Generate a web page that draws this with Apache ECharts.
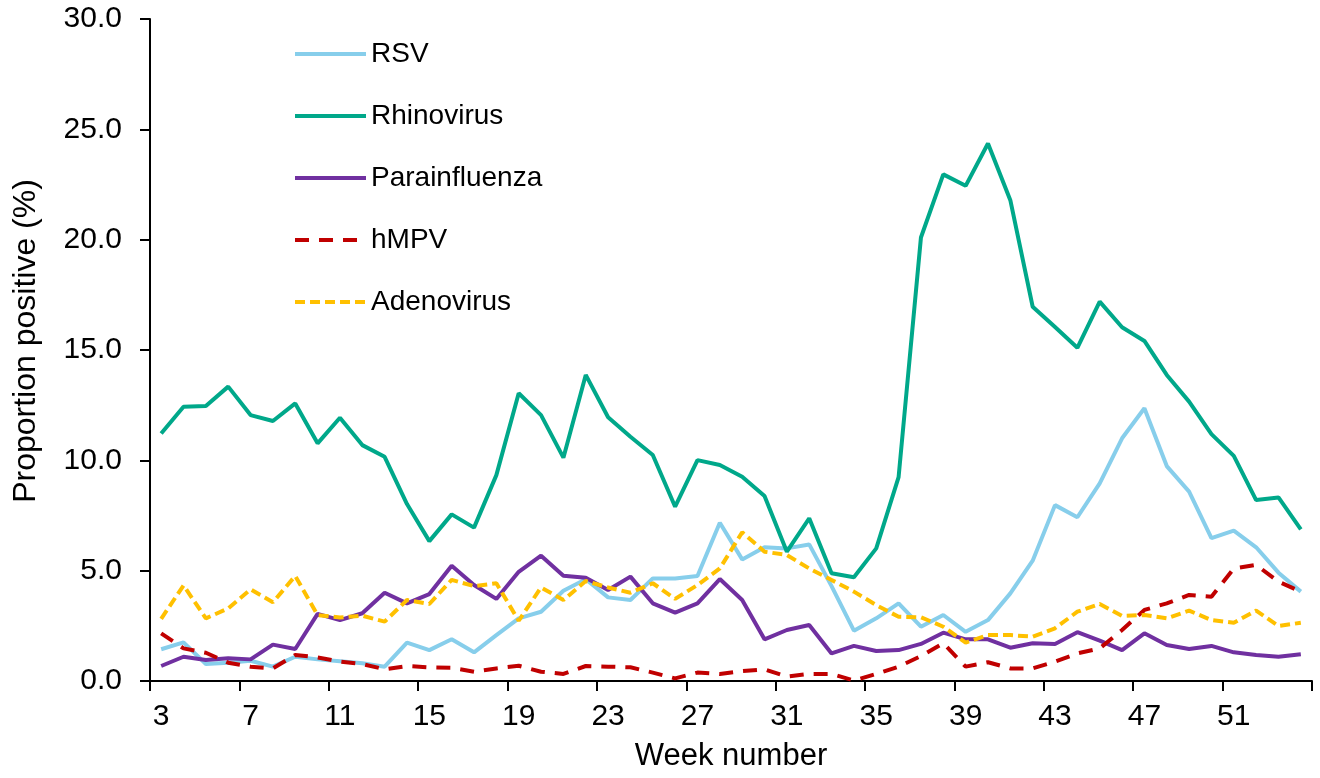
<!DOCTYPE html>
<html>
<head>
<meta charset="utf-8">
<script src="https://cdn.jsdelivr.net/npm/echarts@6/dist/echarts.min.js"></script>
<style>
  html, body { margin: 0; padding: 0; background: #fff; }
  #chart { width: 1320px; height: 778px; }
</style>
</head>
<body>
<div id="chart"></div>
<script>
// week numbers 3..54
var weeks = ['3','4','5','6','7','8','9','10','11','12','13','14','15','16','17','18','19','20','21','22','23','24','25','26','27','28',
  '29','30','31','32','33','34','35','36','37','38','39','40','41','42','43','44','45','46','47','48','49','50','51','52','53','54'];

var rsv = [1.44, 1.75, 0.77, 0.83, 0.92, 0.65, 1.1, 0.98, 0.89, 0.8, 0.65, 1.74, 1.4,
  1.89, 1.3, 2.08, 2.84, 3.14, 4.09, 4.61, 3.79, 3.67, 4.65, 4.65, 4.76, 7.17,
  5.51, 6.06, 6.01, 6.19, 4.3, 2.28, 2.84, 3.52, 2.46, 2.99, 2.23, 2.76, 3.97,
  5.45, 7.97, 7.42, 8.96, 11.0, 12.36, 9.74, 8.58, 6.47, 6.81, 6.06, 4.91, 4.05];

var rhinovirus = [11.22, 12.43, 12.46, 13.34, 12.05, 11.78, 12.58, 10.77, 11.93, 10.69, 10.16, 8.02, 6.34,
  7.55, 6.95, 9.33, 13.04, 12.05, 10.12, 13.87, 11.95, 11.07, 10.24, 7.9, 10.01, 9.79,
  9.26, 8.38, 5.86, 7.37, 4.88, 4.7, 6.01, 9.24, 20.1, 22.96, 22.44, 24.36, 21.79,
  16.96, 16.04, 15.1, 17.19, 16.03, 15.41, 13.87, 12.66, 11.19, 10.2, 8.2, 8.32, 6.87];

var parainfluenza = [0.68, 1.1, 0.95, 1.03, 0.98, 1.65, 1.45, 3.04, 2.76, 3.07, 4.0, 3.52, 3.94,
  5.22, 4.35, 3.72, 4.95, 5.68, 4.77, 4.68, 4.12, 4.73, 3.52, 3.1, 3.52, 4.62,
  3.67, 1.89, 2.31, 2.54, 1.25, 1.59, 1.36, 1.4, 1.68, 2.19, 1.89, 1.89, 1.51,
  1.71, 1.68, 2.21, 1.83, 1.4, 2.16, 1.63, 1.45, 1.59, 1.3, 1.18, 1.1, 1.21];

var hmpv = [2.16, 1.48, 1.28, 0.83, 0.65, 0.57, 1.18, 1.07, 0.88, 0.77, 0.53, 0.68, 0.62,
  0.6, 0.42, 0.57, 0.69, 0.42, 0.32, 0.68, 0.65, 0.62, 0.38, 0.12, 0.38, 0.32,
  0.45, 0.53, 0.2, 0.32, 0.32, 0.02, 0.32, 0.65, 1.13, 1.71, 0.65, 0.85, 0.57,
  0.57, 0.88, 1.25, 1.48, 2.31, 3.22, 3.52, 3.9, 3.82, 5.1, 5.26, 4.5, 4.05];

var adenovirus = [2.82, 4.33, 2.84, 3.29, 4.15, 3.57, 4.76, 2.99, 2.88, 2.96, 2.69, 3.67, 3.49,
  4.58, 4.3, 4.43, 2.73, 4.24, 3.67, 4.53, 4.24, 4.0, 4.43, 3.72, 4.35, 5.1,
  6.74, 5.86, 5.71, 5.1, 4.58, 4.05, 3.44, 2.91, 2.89, 2.46, 1.74, 2.08, 2.08,
  2.01, 2.39, 3.14, 3.49, 2.95, 2.99, 2.84, 3.19, 2.76, 2.64, 3.19, 2.49, 2.64];

var font = 'Liberation Sans, Arial, sans-serif';

function lineSeries(name, data, color, dash) {
    return {
        name: name,
        type: 'line',
        symbol: 'none',
        data: data,
        itemStyle: { color: color },
        lineStyle: { color: color, width: 4, type: dash || 'solid' }
    };
}

var myChart = echarts.init(document.getElementById('chart'));
var option = {
    animation: false,
    backgroundColor: '#fff',
    textStyle: { fontFamily: font, color: '#000' },
    grid: { left: 150, right: 8, top: 19, bottom: 97, containLabel: false, outerBoundsMode: 'none' },
    legend: {
        orient: 'vertical',
        left: 293,
        top: 40,
        padding: 0,
        itemWidth: 71,
        itemHeight: 14,
        itemGap: 34,
        itemStyle: { opacity: 0 },
        lineStyle: { width: 4 },
        textStyle: { fontFamily: font, fontSize: 28, color: '#000' },
        data: ['RSV', 'Rhinovirus', 'Parainfluenza', 'hMPV', 'Adenovirus']
    },
    xAxis: {
        type: 'category',
        data: weeks,
        boundaryGap: true,
        name: 'Week number',
        nameLocation: 'middle',
        nameGap: 60,
        nameTextStyle: { fontFamily: font, fontSize: 31, color: '#000' },
        axisLine: { lineStyle: { color: '#000', width: 2 } },
        axisTick: { show: true, interval: 3, length: 10, lineStyle: { color: '#000', width: 2 } },
        axisLabel: { interval: 3, fontSize: 30, color: '#000', margin: 21, fontFamily: font },
        splitLine: { show: false }
    },
    yAxis: {
        type: 'value',
        min: 0,
        max: 30,
        interval: 5,
        name: 'Proportion positive (%)',
        nameLocation: 'middle',
        nameGap: 108,
        nameTextStyle: { fontFamily: font, fontSize: 32, color: '#000', padding: [0, 0, 0, 18] },
        axisLine: { show: true, lineStyle: { color: '#000', width: 2 } },
        axisTick: { show: true, length: 10, lineStyle: { color: '#000', width: 2 } },
        axisLabel: {
            fontSize: 30, color: '#000', margin: 28, fontFamily: font,
            formatter: function (v) { return v.toFixed(1); }
        },
        splitLine: { show: false }
    },
    series: [
        lineSeries('RSV', rsv, '#87CEEB'),
        lineSeries('Rhinovirus', rhinovirus, '#00A88A'),
        lineSeries('Parainfluenza', parainfluenza, '#7030A0'),
        lineSeries('hMPV', hmpv, '#C00000', [14, 10]),
        lineSeries('Adenovirus', adenovirus, '#FFC000', [10, 5])
    ]
};
myChart.setOption(option);
</script>
</body>
</html>
